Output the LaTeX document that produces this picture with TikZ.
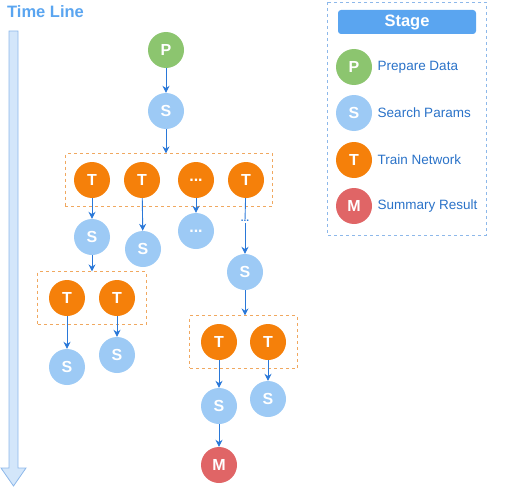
\documentclass[tikz,border=0pt]{standalone}
\usepackage{fontspec}
\setmainfont{Liberation Sans}
\usetikzlibrary{arrows.meta,fit}

\definecolor{pgreen}{HTML}{8CC56F}
\definecolor{sblue}{HTML}{9DCAF5}
\definecolor{torange}{HTML}{F5800A}
\definecolor{mred}{HTML}{E06566}
\definecolor{arrblue}{HTML}{2A78D8}
\definecolor{txtblue}{HTML}{2A72C8}
\definecolor{headblue}{HTML}{5AA5F0}
\definecolor{boxorange}{HTML}{F0A860}
\definecolor{lineblue}{HTML}{8DB8EA}
\definecolor{fillblue}{HTML}{D3E6FA}

\tikzset{
  stage/.style={circle,minimum size=36pt,inner sep=0pt,text=white,font=\bfseries\fontsize{16}{16}\selectfont},
  prep/.style={stage,fill=pgreen},
  srch/.style={stage,fill=sblue},
  train/.style={stage,fill=torange},
  summ/.style={stage,fill=mred},
  grp/.style={draw=boxorange,dashed,line width=.8pt,inner xsep=11pt,inner ysep=8pt},
  arr/.style={draw=arrblue,line width=.9pt,-{Stealth[length=7pt,width=7pt]}},
  lnk/.style={draw=arrblue,line width=.9pt},
  legtext/.style={anchor=west,text=txtblue,xshift=2pt,font=\fontsize{13.5}{13.5}\selectfont}
}

\begin{document}
\begin{tikzpicture}[x=1pt,y=-1pt]
\useasboundingbox (0,0) rectangle (511,487);
% time line
\node[anchor=west,text=headblue,font=\bfseries\fontsize{16.5}{16.5}\selectfont,inner sep=0pt] (tl) at (7,12) {Time Line};
\draw[draw=lineblue,fill=fillblue,line width=.8pt] (9,31)--(18,31)--(18,468)--(26,468)--(13.5,486)--(1,468)--(9,468)--cycle;
% main flow
\node[prep] (p) at (166,50) {P};
\node[srch] (s1) at (166,111) {S};
\node[train] (t1) at (92,180) {T};
\node[train] (t2) at (142,180) {T};
\node[train] (t3) at (196,180) {...};
\node[train] (t4) at (246,180) {T};
\node[grp,inner xsep=8.5pt,fit=(t1)(t4)] (box1) {};
\node[srch] (s2) at (92,237) {S};
\node[srch] (s3) at (143,249) {S};
\node[srch] (s4) at (196,231) {...};
\node[text=arrblue,inner sep=1pt,font=\bfseries\fontsize{10}{10}\selectfont] (dots) at (245,221) {...};
\node[srch] (s5) at (245,272) {S};
\node[train] (t5) at (67,298) {T};
\node[train] (t6) at (117,298) {T};
\node[grp,fit=(t5)(t6)] (box2) {};
\node[srch] (s6) at (67,367) {S};
\node[srch] (s7) at (117,355) {S};
\node[train] (t7) at (219,342) {T};
\node[train] (t8) at (268,342) {T};
\node[grp,fit=(t7)(t8)] (box3) {};
\node[srch] (s8) at (219,406) {S};
\node[srch] (s9) at (268,399) {S};
\node[summ] (m) at (219,465) {M};
\draw[arr] (p) -- (s1);
\draw[arr] (s1) -- (s1 |- box1.north);
\draw[arr] (t1) -- (s2);
\draw[arr] (t2) -- (s3);
\draw[arr] (t3) -- (s4);
\draw[lnk] (t4) -- (dots);
\draw[arr] (dots) -- (s5);
\draw[arr] (s2) -- (s2 |- box2.north);
\draw[arr] (t5) -- (s6);
\draw[arr] (t6) -- (s7);
\draw[arr] (s5) -- (s5 |- box3.north);
\draw[arr] (t7) -- (s8);
\draw[arr] (t8) -- (s9);
\draw[arr] (s8) -- (m);
% legend
\draw[draw=lineblue,dashed,line width=.8pt] (327,2) rectangle (486,235);
\node[fill=headblue,rounded corners=3pt,minimum width=138pt,minimum height=24pt,text=white,font=\bfseries\fontsize{16.5}{16.5}\selectfont] (stg) at (407,22) {Stage};
\node[prep] (lp) at (354,67) {P};
\node[srch] (ls) at (354,113) {S};
\node[train] (lt) at (354,160) {T};
\node[summ] (lm) at (354,206) {M};
\node[legtext] at (lp.east) {Prepare Data};
\node[legtext] at (ls.east) {Search Params};
\node[legtext] at (lt.east) {Train Network};
\node[legtext] at (lm.east) {Summary Result};
\end{tikzpicture}
\end{document}
